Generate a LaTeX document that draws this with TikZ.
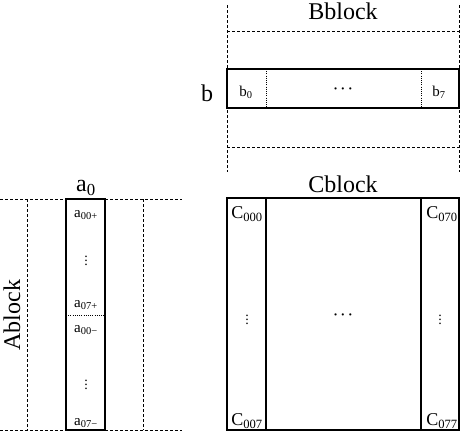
\documentclass[tikz,border=0pt]{standalone}
\usepackage{fontspec}
\setmainfont{Liberation Serif}
\usetikzlibrary{positioning}
\begin{document}
\begin{tikzpicture}[x=1pt, y=-1pt,
    solidline/.style={line width=1.1pt},
    dashline/.style={line width=0.9pt, dash pattern=on 3pt off 2pt},
    dotline/.style={line width=1pt, dash pattern=on 1pt off 1.2pt},
    biglabel/.style={font=\fontsize{24}{26}\selectfont, inner sep=0pt},
    cell/.style={font=\fontsize{15}{17}\selectfont, inner sep=0pt},
    ccell/.style={font=\fontsize{18}{20}\selectfont, inner sep=0pt},
    dotcell/.style={font=\fontsize{14}{16}\selectfont\boldmath, inner sep=0pt}]
    \useasboundingbox (0,0) rectangle (462,432);
    % B block
    \draw[dashline] (227,5) -- (227,172);
    \draw[dashline] (459,5) -- (459,172);
    \draw[dashline] (227,31) -- (459,31);
    \draw[dashline] (227,147) -- (459,147);
    \draw[solidline] (227,69) rectangle (459,108);
    \draw[dotline] (266,69) -- (266,108);
    \draw[dotline] (421,69) -- (421,108);
    \node (bname) [biglabel] at (343,11) {Bblock};
    \node (bvec) [biglabel] at (207,93) {b};
    \node (b0) [cell] at (246,92) {b\textsubscript{0}};
    \node (bdots) [dotcell] at (343,89) {$\cdots$};
    \node (b7) [cell] at (439,92) {b\textsubscript{7}};
    % C block
    \draw[solidline] (227,198) rectangle (459,430);
    \draw[solidline] (266,198) -- (266,430);
    \draw[solidline] (421,198) -- (421,430);
    \node (cname) [biglabel] at (343,184) {Cblock};
    \node (c000) [ccell] at (247,214) {C\textsubscript{000}};
    \node (c070) [ccell] at (442,214) {C\textsubscript{070}};
    \node (c007) [ccell] at (247,421) {C\textsubscript{007}};
    \node (c077) [ccell] at (442,421) {C\textsubscript{077}};
    \node (cvl) [dotcell] at (247,317) {$\vdots$};
    \node (cvr) [dotcell] at (440,317) {$\vdots$};
    \node (cdots) [dotcell] at (343,315) {$\cdots$};
    % A block
    \draw[dashline] (0,199) -- (182,199);
    \draw[dashline] (0,430) -- (182,430);
    \draw[dashline] (27,199) -- (27,430);
    \draw[dashline] (143,199) -- (143,430);
    \draw[solidline] (66,199) rectangle (105,430);
    \draw[dotline] (66,315) -- (105,315);
    \node (aname) [biglabel, rotate=90] at (12,315) {Ablock};
    \node (avec) [biglabel] at (86,188) {a\textsubscript{0}};
    \node (a00p) [cell] at (86,215) {a\textsubscript{00+}};
    \node (avp) [dotcell] at (86,258) {$\vdots$};
    \node (a07p) [cell] at (86,305) {a\textsubscript{07+}};
    \node (a00m) [cell] at (86,330) {a\textsubscript{00−}};
    \node (avm) [dotcell] at (86,382) {$\vdots$};
    \node (a07m) [cell] at (86,423) {a\textsubscript{07−}};
\end{tikzpicture}
\end{document}
